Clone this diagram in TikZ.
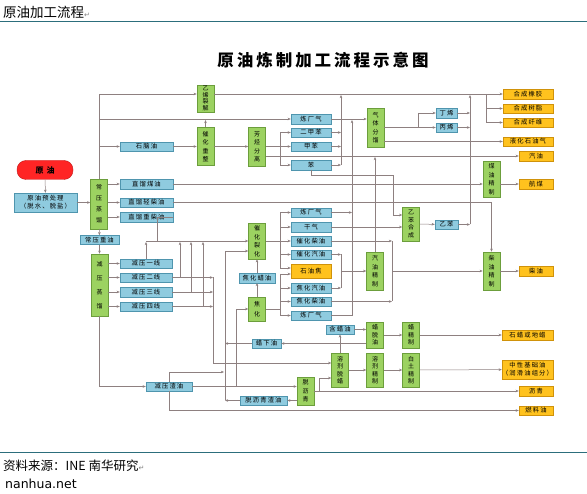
\documentclass[tikz,border=0pt]{standalone}
\usepackage{fontspec}
\setmainfont{Noto Sans CJK SC}
\newfontfamily\cjk{Noto Sans CJK SC}
\newfontfamily\cjkwide[LetterSpace=18]{Noto Sans CJK SC}
\newfontfamily\symfont{DejaVu Sans}
\usetikzlibrary{arrows.meta,positioning}

\definecolor{plantfill}{HTML}{9CD261}
\definecolor{plantdraw}{HTML}{6C9E3C}
\definecolor{streamfill}{HTML}{8FCBDF}
\definecolor{streamdraw}{HTML}{4F95AE}
\definecolor{productfill}{HTML}{FFC21E}
\definecolor{productdraw}{HTML}{D0920A}
\definecolor{crudefill}{HTML}{FF2525}
\definecolor{crudedraw}{HTML}{C01818}
\definecolor{pipecolor}{HTML}{8E8080}
\definecolor{rulecolor}{HTML}{2C6E7C}

\tikzset{
  plant/.style={draw=plantdraw, fill=plantfill, line width=0.5pt, minimum width=17pt,
    inner sep=0pt, align=center, text=black, font=\cjk\fontsize{6}{#1}\selectfont},
  plant/.default=8.5,
  stream/.style={draw=streamdraw, fill=streamfill, line width=0.4pt, inner sep=0pt,
    minimum height=9.5pt, align=center, text=black, font=\cjkwide\fontsize{6.3}{8}\selectfont},
  product/.style={stream, draw=productdraw, fill=productfill},
  pipe/.style={draw=pipecolor, line width=0.5pt},
  feed/.style={pipe, -{Stealth[length=3.2pt,width=2.6pt]}},
}

\begin{document}
\begin{tikzpicture}[x=1pt,y=-1pt]
\useasboundingbox (0,0) rectangle (587,494);

\node[anchor=west, inner sep=0, font=\cjk\fontsize{13.5}{14}\selectfont] (heading) at (3,12)
  {原油加工流程{\symfont\fontsize{7}{8}\selectfont\color{gray}↵}};
\draw[rulecolor, line width=1pt] (0,22) -- (587,22);
\node[font=\cjkwide\bfseries\fontsize{16.5}{18}\selectfont] (title) at (323,60) {原油炼制加工流程示意图};

\node[draw=crudedraw, fill=crudefill, rounded corners=9pt, minimum width=56pt, minimum height=19pt,
  font=\cjk\bfseries\fontsize{8}{9}\selectfont] (crude) at (45,170) {原\hspace{3pt}油};
\node[stream, minimum width=63pt, minimum height=19pt] (pretreat) at (45.5,202.5) {原油预处理\\（脱水、脱盐）};

\node[plant=11, minimum height=50pt] (atm tower) at (99,204) {常\\压\\蒸\\馏};
\node[stream, minimum width=53pt] (naphtha) at (146.5,146.5) {石脑油};
\node[stream, minimum width=53pt] (sr kero) at (146.5,184) {直馏煤油};
\node[stream, minimum width=53pt] (sr light) at (146.5,202.5) {直馏轻柴油};
\node[stream, minimum width=53pt] (sr heavy) at (146.5,217) {直馏重柴油};
\node[stream, minimum width=39pt, minimum height=9pt] (atm residue) at (99.5,240) {常压重油};

\node[plant=14, minimum height=62pt] (vac tower) at (99.5,285) {减\\压\\蒸\\馏};
\node[stream, minimum width=52pt] (vac cut1) at (146,263.5) {减压一线};
\node[stream, minimum width=52pt] (vac cut2) at (146,277.5) {减压二线};
\node[stream, minimum width=52pt] (vac cut3) at (146,292) {减压三线};
\node[stream, minimum width=52pt] (vac cut4) at (146,306.5) {减压四线};
\node[stream, minimum width=46pt] (vac residue) at (169,386.5) {减压渣油};

\node[plant=6.5, minimum height=27pt] (cracker) at (205.5,98.5) {乙\\烯\\裂\\解};
\node[plant, minimum height=38pt] (reformer) at (205.5,146.5) {催\\化\\重\\整};
\node[plant, minimum height=39pt] (aromatics sep) at (257,146.5) {芳\\烃\\分\\离};
\node[stream, minimum width=40pt] (gas top) at (311,119) {炼厂气};
\node[stream, minimum width=40pt] (xylene) at (311,132.5) {二甲苯};
\node[stream, minimum width=40pt] (toluene) at (311,146.5) {甲苯};
\node[stream, minimum width=40pt] (benzene) at (311,165) {苯};

\node[plant, minimum height=39pt] (gas sep) at (375.5,127.5) {气\\体\\分\\馏};
\node[stream, minimum width=21pt] (butene) at (446.5,113) {丁烯};
\node[stream, minimum width=21pt] (propene) at (446.5,127.5) {丙烯};

\node[product, minimum width=50pt] (rubber) at (528,94) {合成橡胶};
\node[product, minimum width=50pt] (resin) at (528,108.5) {合成树脂};
\node[product, minimum width=50pt] (fibre) at (528,122.5) {合成纤维};
\node[product, minimum width=50pt] (lpg) at (528,141.5) {液化石油气};
\node[product, minimum width=34pt] (gasoline) at (536,156) {汽油};
\node[product, minimum width=34pt] (jet fuel) at (536,184) {航煤};
\node[product, minimum width=34pt] (diesel) at (536,271) {柴油};
\node[product, minimum width=51pt] (paraffin) at (527.5,335) {石蜡或地蜡};
\node[product, minimum width=51pt, minimum height=19pt] (base oil) at (527.5,369.5) {中性基础油\\（润滑油组分）};
\node[product, minimum width=34pt] (asphalt) at (536,391) {沥青};
\node[product, minimum width=34pt] (fuel oil) at (536,410.5) {燃料油};

\node[plant, minimum height=36pt] (kero treat) at (491.5,179) {煤\\油\\精\\制};
\node[plant=7.5, minimum height=34pt] (eb synth) at (411,224) {乙\\苯\\合\\成};
\node[stream, minimum width=23pt] (ethylbenzene) at (446.5,224.5) {乙苯};

\node[plant, minimum height=36pt] (fcc) at (257,241) {催\\化\\裂\\化};
\node[stream, minimum width=36pt] (coker gas oil) at (257,278) {焦化蜡油};
\node[plant=10, minimum height=24pt] (coker) at (257,309) {焦\\化};
\node[stream, minimum width=40pt] (gas mid) at (311,212.5) {炼厂气};
\node[stream, minimum width=40pt] (dry gas) at (311,227) {干气};
\node[stream, minimum width=40pt] (fcc diesel) at (311,241) {催化柴油};
\node[stream, minimum width=40pt] (fcc gasoline) at (311,254.5) {催化汽油};
\node[product, minimum width=40pt, minimum height=14pt] (coke) at (311,271) {石油焦};
\node[stream, minimum width=40pt] (coker gasoline) at (311,288) {焦化汽油};
\node[stream, minimum width=40pt] (coker diesel) at (311,301.5) {焦化柴油};
\node[stream, minimum width=40pt] (gas low) at (311,315.5) {炼厂气};

\node[plant, minimum height=38pt] (gasoline treat) at (375,271) {汽\\油\\精\\制};
\node[plant, minimum height=38pt] (diesel treat) at (491.5,271) {柴\\油\\精\\制};

\node[stream, minimum width=28pt] (waxy oil) at (340,329.5) {含蜡油};
\node[stream, minimum width=29pt] (foots oil) at (266.5,343.5) {蜡下油};
\node[plant=7.5, minimum height=26pt] (wax deoil) at (375,335) {蜡\\脱\\油};
\node[plant=7.5, minimum height=26pt] (wax refine) at (411,335) {蜡\\精\\制};
\node[plant=7.5, minimum height=34pt] (solvent dewax) at (340,370) {溶\\剂\\脱\\蜡};
\node[plant=7.5, minimum height=34pt] (solvent refine) at (375,370) {溶\\剂\\精\\制};
\node[plant=7.5, minimum height=34pt] (clay refine) at (411,370) {白\\土\\精\\制};
\node[plant, minimum height=28pt] (deasphalt) at (305.5,391) {脱\\沥\\青};
\node[stream, minimum width=47pt] (daf residue) at (263.5,400.5) {脱沥青渣油};

\draw[feed] (crude) -- (pretreat);
\draw[feed] (pretreat) -- (pretreat -| atm tower.west);
\draw[feed] (atm tower.north) -- (99,94) -- (cracker.west |- 0,94);
\draw[feed] (99,146.5) -- (naphtha);
\draw[feed] (99,119) -- (gas top);
\draw[feed] (reformer.north) -- (205.5,120);
\draw[feed] (naphtha) -- (reformer);
\draw[feed] (reformer) -- (aromatics sep);
\draw[pipe] (aromatics sep) -- (280,146.5);
\draw[pipe] (280,132.5) -- (280,165);
\draw[feed] (280,132.5) -- (xylene);
\draw[feed] (280,146.5) -- (toluene);
\draw[feed] (280,165) -- (benzene);
\draw[feed] (xylene) -- (341,132.5);
\draw[feed] (toluene) -- (341,146.5);
\draw[feed] (benzene) -- (341,165);
\draw[feed] (341,165) -- (341,95);
\draw[feed] (cracker.east |- 0,94) -- (rubber);
\draw[pipe] (486,94) -- (486,122.5);
\draw[feed] (486,108.5) -- (resin);
\draw[feed] (486,122.5) -- (fibre);

\draw[feed] (gas top) -- (gas top -| gas sep.west);
\draw[feed] (gas mid) -- (352,212.5);
\draw[feed] (gas low) -- (352,315.5) -- (352,120);
\draw[pipe] (gas sep) -- (418,127.5);
\draw[pipe] (418,113) -- (418,127.5);
\draw[feed] (418,113) -- (butene);
\draw[feed] (418,127.5) -- (propene);
\draw[feed] (gas sep.east |- lpg) -- (lpg);
\draw[feed] (butene) -- (470,113);
\draw[feed] (propene) -- (470,127.5);
\draw[feed] (ethylbenzene) -- (470,224.5);
\draw[feed] (470,224.5) -- (470,95);
\draw[feed] (aromatics sep.east |- gasoline) -- (gasoline);
\draw[feed] (gasoline treat) -- (375,157);

\draw[feed] (atm tower.east |- sr kero) -- (sr kero);
\draw[feed] (atm tower.east |- sr light) -- (sr light);
\draw[feed] (atm tower.east |- sr heavy) -- (sr heavy);
\draw[feed] (sr kero) -- (sr kero -| kero treat.west);
\draw[feed] (kero treat.east |- jet fuel) -- (jet fuel);
\draw[feed] (sr light) -| (diesel treat);
\draw[pipe] (sr heavy) -| (157,241);
\draw[feed] (atm tower) -- (atm residue);
\draw[feed] (atm residue) -- (vac tower);

\draw[feed] (vac tower.east |- vac cut1) -- (vac cut1);
\draw[feed] (vac tower.east |- vac cut2) -- (vac cut2);
\draw[feed] (vac tower.east |- vac cut3) -- (vac cut3);
\draw[feed] (vac tower.east |- vac cut4) -- (vac cut4);
\draw[feed] (146,241) -- (fcc);
\draw[feed] (vac cut1) -- (146,242);
\draw[feed] (vac cut2) -- (213,277.5);
\draw[feed] (vac cut3) -- (213,292);
\draw[feed] (vac cut4) -- (213,306.5);
\draw[feed] (180,277.5) -- (180,242);
\draw[feed] (191,292) -- (191,242);
\draw[feed] (203,306.5) -- (203,242);
\draw[feed] (213,277.5) -- (213,363) -- (solvent dewax.west |- 0,363);

\draw[feed] (vac tower) |- (vac residue);
\draw[feed] (vac residue) -- (vac residue -| deasphalt.west);
\draw[feed] (236,386.5) |- (coker);
\draw[feed] (vac residue.north) |- (224,372);
\draw[feed] (vac residue.south) |- (fuel oil);
\draw[feed] (deasphalt.west |- daf residue) -- (daf residue);
\draw[feed] (daf residue) -- (225,400.5);
\draw[feed] (foots oil) -- (225,343.5);
\draw[feed] (225,400.5) |- ([yshift=-10pt]fcc.west);
\draw[feed] (deasphalt) -- (asphalt);
\draw[feed] (319,391) |- (solvent dewax.west |- 0,378);

\draw[feed] (solvent dewax) -- (waxy oil);
\draw[feed] (waxy oil) -- (waxy oil -| wax deoil.west);
\draw[feed] (wax deoil.west |- foots oil) -- (foots oil);
\draw[feed] (wax deoil) -- (wax refine);
\draw[feed] (wax refine) -- (paraffin);
\draw[feed] (solvent dewax) -- (solvent refine);
\draw[feed] (solvent refine) -- (clay refine);
\draw[feed] (clay refine) -- (base oil);

\draw[pipe] (fcc) -- (280,241);
\draw[pipe] (280,212.5) -- (280,268);
\draw[feed] (280,212.5) -- (gas mid);
\draw[feed] (280,227) -- (dry gas);
\draw[feed] (280,241) -- (fcc diesel);
\draw[feed] (280,254.5) -- (fcc gasoline);
\draw[feed] (280,268) -- (coke.west |- 0,268);
\draw[pipe] (coker) -- (280,309);
\draw[pipe] (280,274) -- (280,315.5);
\draw[feed] (280,274) -- (coke.west |- 0,274);
\draw[feed] (280,288) -- (coker gasoline);
\draw[feed] (280,301.5) -- (coker diesel);
\draw[feed] (280,315.5) -- (gas low);
\draw[feed] (coker) -- (coker gas oil);
\draw[feed] (coker gas oil) -- (fcc);

\draw[feed] (fcc gasoline) -- (341,254.5);
\draw[feed] (coker gasoline) -- (341,288);
\draw[pipe] (341,254.5) -- (341,288);
\draw[feed] (341,271) -- (gasoline treat);
\draw[feed] (fcc diesel) -- (392,241);
\draw[feed] (coker diesel) -- (392,301.5);
\draw[pipe] (392,241) -- (392,301.5);
\draw[feed] (392,271) -- (diesel treat);
\draw[feed] (dry gas) -- (dry gas -| eb synth.west);
\draw[feed] (benzene) -- (311,175) -- (393,175) -- (393,215) -- (eb synth.west |- 0,215);
\draw[feed] (eb synth) -- (ethylbenzene);
\draw[feed] (diesel treat) -- (diesel);

\draw[rulecolor, line width=1pt] (0,453) -- (587,453);
\node[anchor=west, inner sep=0, font=\cjk\fontsize{12.5}{13}\selectfont] (source) at (3,466)
  {资料来源：INE 南华研究{\symfont\fontsize{7}{8}\selectfont\color{gray}↵}};
\node[anchor=west, inner sep=0, font=\symfont\fontsize{12.5}{13}\selectfont] (site) at (5,484) {nanhua.net};
\end{tikzpicture}
\end{document}
